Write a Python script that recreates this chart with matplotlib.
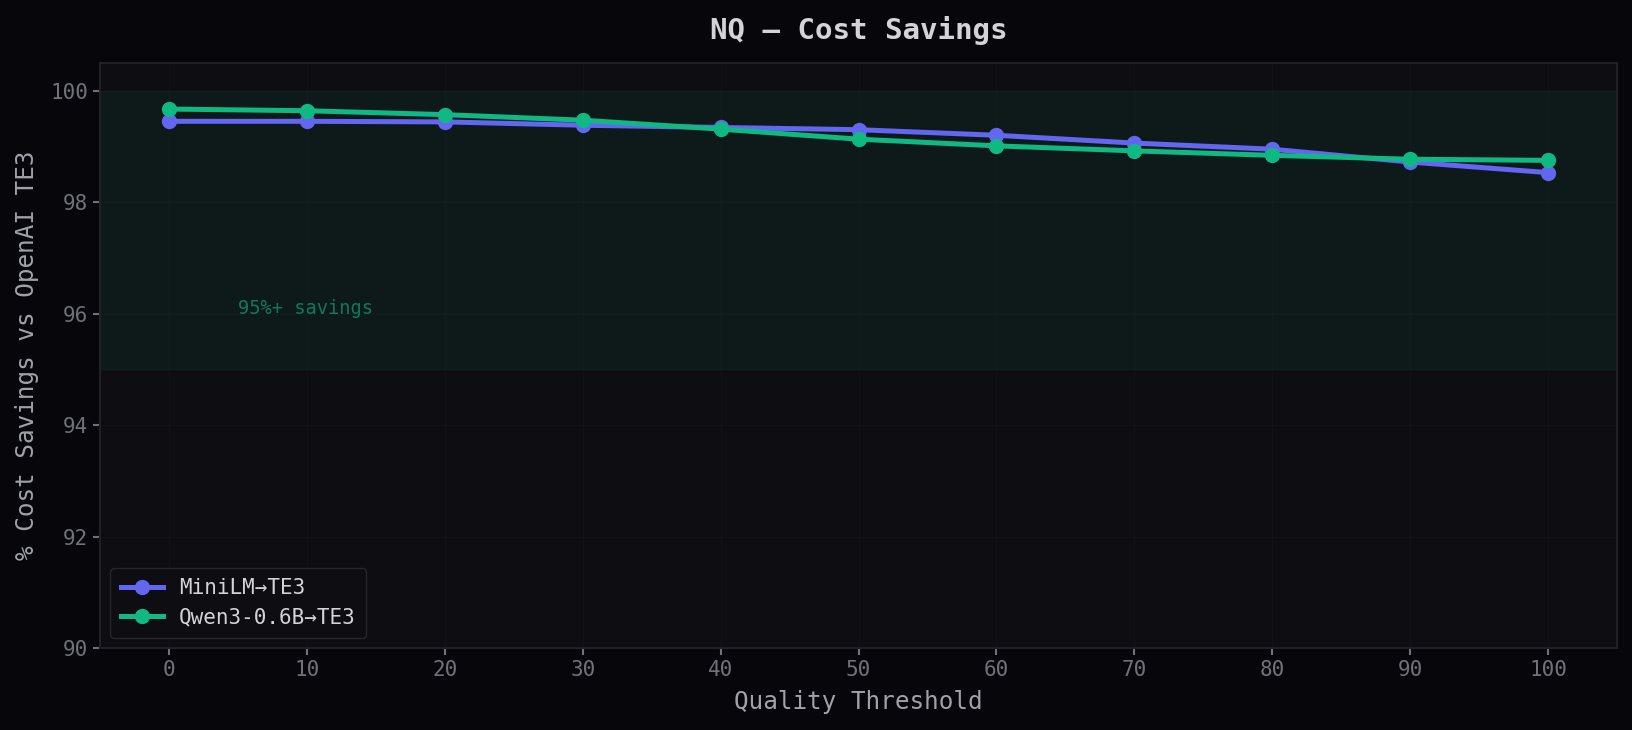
import matplotlib
matplotlib.use("Agg")
import matplotlib.pyplot as plt

thresholds = [0, 10, 20, 30, 40, 50, 60, 70, 80, 90, 100]
minilm = [99.45, 99.45, 99.44, 99.38, 99.34, 99.30, 99.20, 99.06, 98.95, 98.72, 98.53]
qwen = [99.67, 99.64, 99.57, 99.47, 99.31, 99.13, 99.01, 98.92, 98.84, 98.77, 98.75]
series_labels = ["MiniLM\u2192TE3", "Qwen3-0.6B\u2192TE3"]

BG = "#07070b"
AX_BG = "#0e0e12"
INDIGO = "#6366f1"
EMERALD = "#10b981"

plt.rcParams["font.family"] = ["DejaVu Sans Mono", "DejaVu Sans"]

fig = plt.figure(figsize=(16.32, 7.3), dpi=100, facecolor=BG)
ax = fig.add_axes([0.0613, 0.112, 0.9295, 0.802])
ax.set_facecolor(AX_BG)

ax.axhspan(95, 100, color=EMERALD, alpha=0.07)
ax.text(5, 96.1, "95%+ savings", color=EMERALD, alpha=0.6, fontsize=13.5,
        va="center", ha="left")

ax.plot(thresholds, minilm, color=INDIGO, lw=3.6, marker="o", ms=10,
        label=series_labels[0])
ax.plot(thresholds, qwen, color=EMERALD, lw=3.6, marker="o", ms=10,
        label=series_labels[1])

ax.set_xlim(-5, 105)
ax.set_ylim(90, 100.5)
ax.set_xticks(thresholds)
ax.set_yticks([90, 92, 94, 96, 98, 100])
ax.grid(True, color="#ffffff", alpha=0.018, lw=1)
ax.set_axisbelow(True)

for s in ax.spines.values():
    s.set_color("#202026")
    s.set_linewidth(1.5)
ax.tick_params(colors="#71717a", labelsize=15, length=5, width=1.5)
for lbl in ax.get_xticklabels() + ax.get_yticklabels():
    lbl.set_color("#71717a")

ax.set_xlabel("Quality Threshold", color="#a1a1aa", fontsize=17.5, labelpad=7)
ax.set_ylabel("% Cost Savings vs OpenAI TE3", color="#a1a1aa", fontsize=17.5,
              labelpad=8)
ax.set_title("NQ \u2014 Cost Savings", color="#d4d4d8", fontsize=21,
             fontweight="bold", pad=17)

leg = ax.legend(loc="lower left", fontsize=15, facecolor="#0e0e12",
                edgecolor="#27272a", framealpha=1, borderpad=0.5,
                handlelength=2.0, labelspacing=0.45)
for t in leg.get_texts():
    t.set_color("#d4d4d8")

fig.savefig("out.png", dpi=100, facecolor=BG)
